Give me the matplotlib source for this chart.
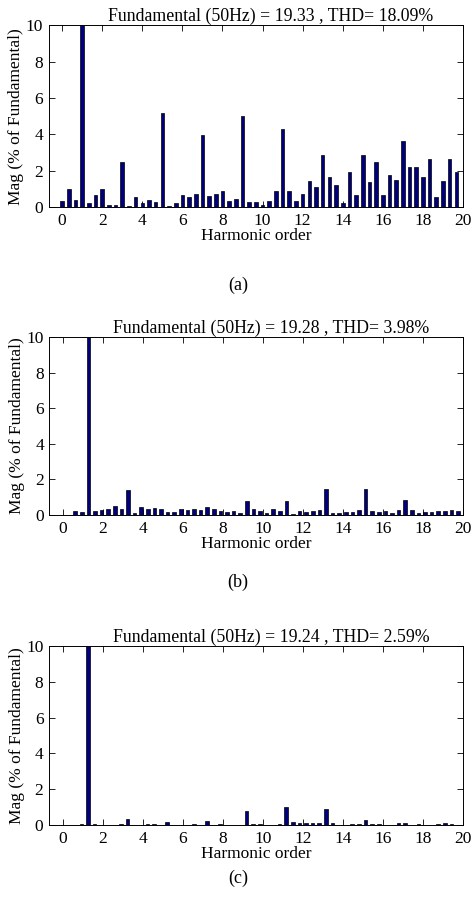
import numpy as np
import matplotlib
matplotlib.use('Agg')
import matplotlib.pyplot as plt

plt.rcParams['font.family'] = ['Liberation Serif', 'DejaVu Serif']
FONT = 11.5

# ── Data ──────────────────────────────────────────────────────────────────────
# bin positions (harmonic order), 1/3-harmonic resolution
order_a = np.arange(60) / 3
order_bc = 0.28 + np.arange(60) * 0.33

mag_a = [0.35, 1.0, 0.4, 100, 0.25, 0.65, 1.0, 0.12, 0.12, 2.5,
         0.05, 0.55, 0.25, 0.42, 0.3, 5.2, 0.05, 0.25, 0.65, 0.55,
         0.72, 3.95, 0.6, 0.72, 0.9, 0.35, 0.48, 5.0, 0.3, 0.3,
         0.12, 0.35, 0.9, 4.3, 0.9, 0.35, 0.75, 1.45, 1.1, 2.9,
         1.65, 1.2, 0.25, 1.95, 0.68, 2.9, 1.4, 2.5, 0.7, 1.75,
         1.52, 3.65, 2.2, 2.2, 1.65, 2.65, 0.55, 1.45, 2.65, 1.95]

mag_b = [0.0, 0.2, 0.17, 100, 0.22, 0.28, 0.35, 0.52, 0.35, 1.42,
         0.1, 0.45, 0.35, 0.4, 0.35, 0.18, 0.18, 0.35, 0.3, 0.35,
         0.3, 0.45, 0.35, 0.22, 0.18, 0.25, 0.12, 0.78, 0.35, 0.25,
         0.12, 0.35, 0.25, 0.78, 0.05, 0.22, 0.15, 0.22, 0.3, 1.45,
         0.12, 0.12, 0.18, 0.18, 0.28, 1.45, 0.22, 0.18, 0.22, 0.12,
         0.28, 0.85, 0.28, 0.12, 0.18, 0.18, 0.22, 0.25, 0.28, 0.22]

mag_c = [0.0, 0.0, 0.05, 100, 0.05, 0.0, 0.0, 0.02, 0.05, 0.35,
         0.0, 0.0, 0.05, 0.05, 0.0, 0.15, 0.0, 0.0, 0.02, 0.05,
         0.0, 0.25, 0.0, 0.05, 0.0, 0.0, 0.0, 0.78, 0.05, 0.05,
         0.0, 0.0, 0.08, 1.02, 0.15, 0.1, 0.1, 0.1, 0.1, 0.9,
         0.1, 0.0, 0.0, 0.05, 0.05, 0.28, 0.05, 0.05, 0.0, 0.0,
         0.1, 0.1, 0.0, 0.05, 0.0, 0.0, 0.05, 0.1, 0.05, 0.0]

titles = ['Fundamental (50Hz) = 19.33 , THD= 18.09%',
          'Fundamental (50Hz) = 19.28 , THD= 3.98%',
          'Fundamental (50Hz) = 19.24 , THD= 2.59%']
captions = ['(a)', '(b)', '(c)']

# ── Figure ────────────────────────────────────────────────────────────────────
fig = plt.figure(figsize=(4.71, 9.16), dpi=100)

boxes = [[0.103, 0.7737, 0.880, 0.1987],
         [0.105, 0.4378, 0.878, 0.1940],
         [0.104, 0.0993, 0.879, 0.1954]]
cap_y = [0.689, 0.3646, 0.0415]

panels = [(order_a, mag_a), (order_bc, mag_b), (order_bc, mag_c)]

for box, (xs, mags), title, cap, cy in zip(boxes, panels, titles, captions, cap_y):
    ax = fig.add_axes(box)
    ax.bar(xs, mags, width=0.18, color='#00007f', edgecolor='black',
           linewidth=0.5, zorder=2)
    ax.set_xlim(-0.68, 20)
    ax.set_ylim(0, 10)
    ax.set_xticks(np.arange(0, 21, 2))
    ax.set_yticks(np.arange(0, 11, 2))
    ax.tick_params(direction='in', top=True, right=True, length=4,
                   width=0.6, labelsize=FONT + 1, pad=4)
    for s in ax.spines.values():
        s.set_linewidth(0.7)
    ax.set_title(title, fontsize=12.8, x=0.537, pad=3)
    ax.set_xlabel('Harmonic order', fontsize=FONT + 1, labelpad=-0.5)
    ax.set_ylabel('Mag (% of Fundamental)', fontsize=FONT + 1, labelpad=1)
    fig.text(0.505, cy, cap, ha='center', va='center', fontsize=FONT + 1.5)

plt.savefig('out.png', dpi=100)
